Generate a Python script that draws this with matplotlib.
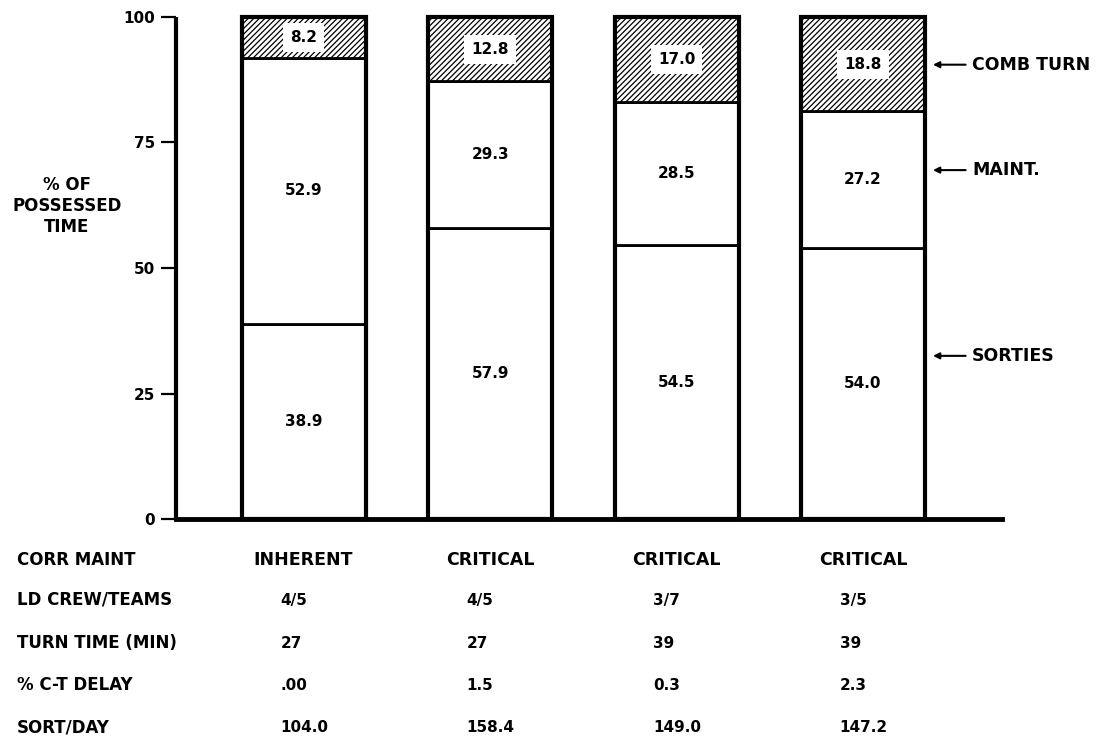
import matplotlib
matplotlib.use("Agg")
import matplotlib.pyplot as plt
from matplotlib.transforms import blended_transform_factory
import numpy as np

# ---- data ----
configs = ["INHERENT", "CRITICAL", "CRITICAL", "CRITICAL"]
sorties = [38.9, 57.9, 54.5, 54.0]
maint = [52.9, 29.3, 28.5, 27.2]
comb_turn = [8.2, 12.8, 17.0, 18.8]
ld_crew = ["4/5", "4/5", "3/7", "3/5"]
turn_time = ["27", "27", "39", "39"]
ct_delay = [".00", "1.5", "0.3", "2.3"]
sort_day = ["104.0", "158.4", "149.0", "147.2"]
row_labels = ["CORR MAINT", "LD CREW/TEAMS", "TURN TIME (MIN)", "% C-T DELAY", "SORT/DAY"]
yticks = [0, 25, 50, 75, 100]
seg_names = ["COMB TURN", "MAINT.", "SORTIES"]

plt.rcParams['font.family'] = ['DejaVu Sans']
plt.rcParams['hatch.linewidth'] = 0.9

W, H = 1098, 736
fig = plt.figure(figsize=(W / 100, H / 100), dpi=100)
ax = fig.add_axes([176 / W, 1 - 519 / H, (1002 - 176) / W, (519 - 17) / H])

x = np.arange(len(configs))
width = 0.665
lw_bar = 2.0

ax.bar(x, sorties, width, color='white', edgecolor='black', linewidth=lw_bar, clip_on=False, zorder=2)
ax.bar(x, maint, width, bottom=sorties, color='white', edgecolor='black', linewidth=lw_bar, clip_on=False, zorder=2)
bottom3 = np.array(sorties) + np.array(maint)
ax.bar(x, comb_turn, width, bottom=bottom3, color='white', edgecolor='black',
       linewidth=lw_bar, hatch='//////', clip_on=False, zorder=2)
# thicker outline for whole bar
ax.bar(x, np.array(sorties) + np.array(maint) + np.array(comb_turn), width, fill=False,
       edgecolor='black', linewidth=3.0, clip_on=False, zorder=3)

fs = 11
for i in range(len(configs)):
    ax.text(x[i], sorties[i] / 2, f"{sorties[i]:.1f}", ha='center', va='center',
            fontsize=fs, fontweight='bold', zorder=4)
    ax.text(x[i], sorties[i] + maint[i] / 2, f"{maint[i]:.1f}", ha='center', va='center',
            fontsize=fs, fontweight='bold', zorder=4)
    ax.text(x[i], bottom3[i] + comb_turn[i] / 2, f"{comb_turn[i]:.1f}", ha='center', va='center',
            fontsize=fs, fontweight='bold', zorder=4,
            bbox=dict(facecolor='white', edgecolor='none', boxstyle='square,pad=0.45'))

ax.set_xlim(-0.684, 3.745)
ax.set_ylim(0, 100)
ax.set_yticks(yticks)
ax.set_yticklabels([str(t) for t in yticks], fontsize=11, fontweight='bold')
ax.set_xticks([])
ax.tick_params(axis='y', length=11, width=1.6, pad=4, direction='out')
for s in ['top', 'right']:
    ax.spines[s].set_visible(False)
ax.spines['left'].set_linewidth(3.0)
ax.spines['bottom'].set_linewidth(3.5)
ax.spines['left'].set_capstyle('butt')

# right-hand annotations
ann_y = [90.5, 69.5, 32.5]
for name, yv in zip(seg_names, ann_y):
    ax.annotate("", xy=(3.375, yv), xytext=(3.55, yv),
                arrowprops=dict(arrowstyle='-|>', lw=1.5, color='black', mutation_scale=9,
                                shrinkA=0, shrinkB=0), annotation_clip=False)
    ax.text(3.585, yv, name, ha='left', va='center', fontsize=12.5, fontweight='bold', clip_on=False)

# y-label
fig.text(67 / W, 1 - 206 / H, "% OF\nPOSSESSED\nTIME", ha='center', va='center',
         fontsize=12, fontweight='bold', linespacing=1.25)

# table below
trans = blended_transform_factory(ax.transData, fig.transFigure)
row_y = [560, 600, 643, 685, 727]
for lab, ry in zip(row_labels, row_y):
    fig.text(17 / W, 1 - ry / H, lab, ha='left', va='center', fontsize=12, fontweight='bold')
rows = [ld_crew, turn_time, ct_delay, sort_day]
for i in range(len(configs)):
    ax.text(x[i], 1 - row_y[0] / H, configs[i], transform=trans, ha='center', va='center',
            fontsize=12.5, fontweight='bold', clip_on=False)
    for r, ry in zip(rows, row_y[1:]):
        ax.text(x[i] - 0.125, 1 - ry / H, r[i], transform=trans, ha='left', va='center',
                fontsize=11, fontweight='bold', clip_on=False)

fig.savefig("out.png", dpi=100)
